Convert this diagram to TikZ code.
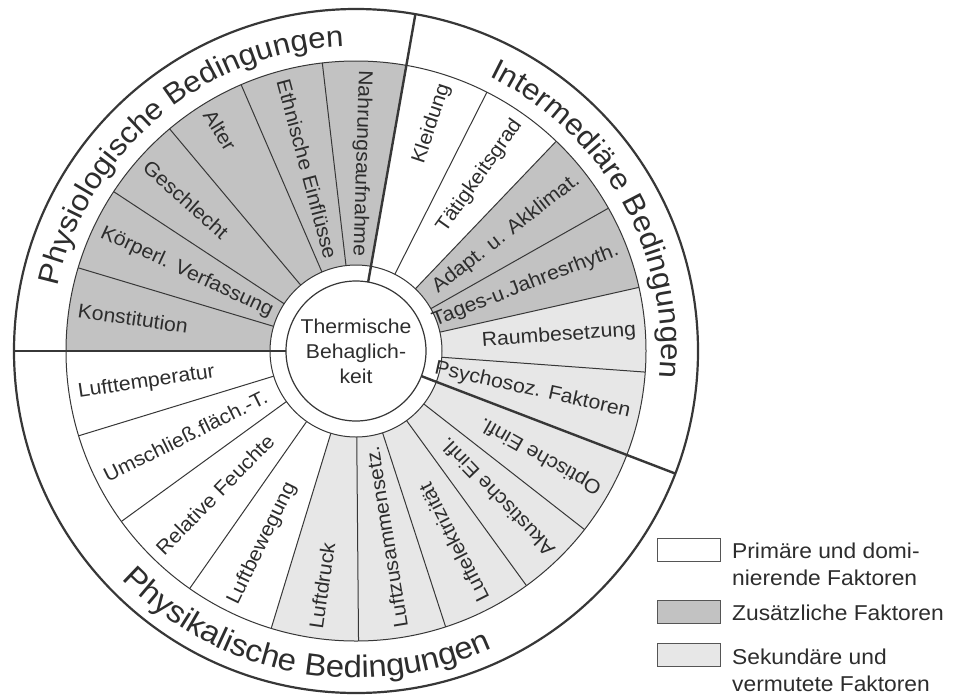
\documentclass[tikz,border=0pt]{standalone}
\usepackage{fontspec}
\setmainfont{Liberation Sans}[FakeStretch=1.06]
\usetikzlibrary{decorations.text}
\definecolor{darkseg}{RGB}{194,194,194}
\definecolor{lightseg}{RGB}{231,231,231}
\definecolor{linec}{RGB}{55,55,55}
\definecolor{textc}{RGB}{45,45,45}
\newcommand\segfont{\fontsize{20}{25}\selectfont}
\newcommand\legfont{\fontsize{21.5}{26}\selectfont}
\newcommand\catfont{\fontsize{29.5}{32}\selectfont}
\newcommand\catfontb{\fontsize{31}{34}\selectfont}
\begin{document}
\begin{tikzpicture}[x=1pt,y=1pt,
  thinline/.style={draw=linec, line width=1pt},
  thickline/.style={draw=linec, line width=2.4pt},
  inlabel/.style={font=\segfont, text=textc, inner sep=0pt, anchor=west},
  outlabel/.style={font=\segfont, text=textc, inner sep=0pt, anchor=east},
  legbox/.style={draw=linec!85, line width=1pt, minimum width=63pt, minimum height=23pt, inner sep=0pt},
  legtext/.style={font=\legfont, text=textc, inner sep=0pt, anchor=base west},
  cattext/.style={decorate, decoration={text along path, text align=center, text={|\catfont\color{textc}|#1}}},
  cattextb/.style={decorate, decoration={text along path, text align=center, text={|\catfontb\color{textc}|#1}}}]
\fill[white] (-356,-346) rectangle (601,351);
\useasboundingbox (-356,-346) rectangle (601,351);
% sector fills
\foreach \a/\b/\c in {80/180/darkseg, 12.67/46.33/darkseg, -21/12.67/lightseg, 253/339/lightseg}{
  \fill[\c] (\a:86pt) arc[start angle=\a, end angle=\b, radius=86pt] -- (\b:290pt) arc[start angle=\b, end angle=\a, radius=290pt] -- cycle;
}
% thin dividers
\foreach \a in {163.33,146.67,130,113.33,96.67,63.17,46.33,29.5,12.67,-4.17,197,216,235,253,270.5,288,306,322}{
  \draw[thinline] (\a:86pt) -- (\a:290pt);
}
\draw[thinline] (0,0) circle[radius=290pt];
\draw[linec, line width=2.2pt] (0,0) circle[radius=342pt];
\draw[thinline, fill=white] (0,0) circle[radius=86pt];
\draw[linec, line width=1.2pt] (0,0) circle[radius=70pt];
% thick dividers
\foreach \a in {180,80,-21}{
  \draw[thickline] (\a:70pt) -- (\a:342pt);
}
% center text
\node[font=\segfont, text=textc, align=center, inner sep=0pt] (center) at (0,0) {Thermische\\Behaglich-\\keit};
% Physiologische
\node[inlabel, rotate=351.67] (konst) at (171.67:281pt) {Konstitution};
\node[inlabel, rotate=335] (koerp) at (155:281pt) {Körperl. Verfassung};
\node[inlabel, rotate=318.33] (geschl) at (138.33:281pt) {Geschlecht};
\node[inlabel, rotate=301.67] (alter) at (121.67:281pt) {Alter};
\node[inlabel, rotate=285] (ethn) at (105:281pt) {Ethnische Einflüsse};
\node[inlabel, rotate=268.33] (nahr) at (88.33:281pt) {Nahrungsaufnahme};
% Intermediaere
\node[outlabel, rotate=71.58] (kleid) at (71.58:281pt) {Kleidung};
\node[outlabel, rotate=54.75] (taet) at (54.75:281pt) {Tätigkeitsgrad};
\node[outlabel, rotate=37.92] (adapt) at (37.92:281pt) {Adapt. u. Akklimat.};
\node[outlabel, rotate=21.08] (tages) at (21.08:281pt) {Tages-u.Jahresrhyth.};
\node[outlabel, rotate=4.25] (raum) at (4.25:281pt) {Raumbesetzung};
\node[outlabel, rotate=-12.58] (psych) at (-12.58:281pt) {Psychosoz. Faktoren};
% Physikalische
\node[inlabel, rotate=8.5] (ltemp) at (188.5:281pt) {Lufttemperatur};
\node[inlabel, rotate=26.5] (umschl) at (206.5:281pt) {Umschließ.fläch.-T.};
\node[inlabel, rotate=45.5] (relf) at (225.5:281pt) {Relative Feuchte};
\node[inlabel, rotate=64] (lbew) at (244:281pt) {Luftbewegung};
\node[inlabel, rotate=81.75] (ldruck) at (261.75:281pt) {Luftdruck};
\node[inlabel, rotate=99.25] (lzus) at (279.25:281pt) {Luftzusammensetz.};
\node[inlabel, rotate=117] (lel) at (297:281pt) {Luftelektrizität};
\node[inlabel, rotate=134] (akust) at (314:281pt) {Akustische Einfl.};
\node[inlabel, rotate=150.5] (opt) at (330.5:281pt) {Optische Einfl.};
% category labels
\path[cattext={Physiologische Bedingungen}] (178:305pt) arc[start angle=178, end angle=82, radius=305pt];
\path[cattext={Intermediäre Bedingungen}] (77:305pt) arc[start angle=77, end angle=-18, radius=305pt];
\path[cattextb={Physikalische Bedingungen}] (185:327pt) arc[start angle=185, end angle=334, radius=327pt];
% legend
\node[legbox, fill=white] (box1) at (332.5,-198.5) {};
\node[legbox, fill=darkseg] (box2) at (332.5,-260.5) {};
\node[legbox, fill=lightseg] (box3) at (332.5,-304) {};
\node[legtext] (leg1a) at (376,-207) {Primäre und domi-};
\node[legtext] (leg1b) at (376,-234) {nierende Faktoren};
\node[legtext] (leg2) at (376,-269) {Zusätzliche Faktoren};
\node[legtext] (leg3a) at (376,-313) {Sekundäre und};
\node[legtext] (leg3b) at (376,-340) {vermutete Faktoren};
\end{tikzpicture}
\end{document}
